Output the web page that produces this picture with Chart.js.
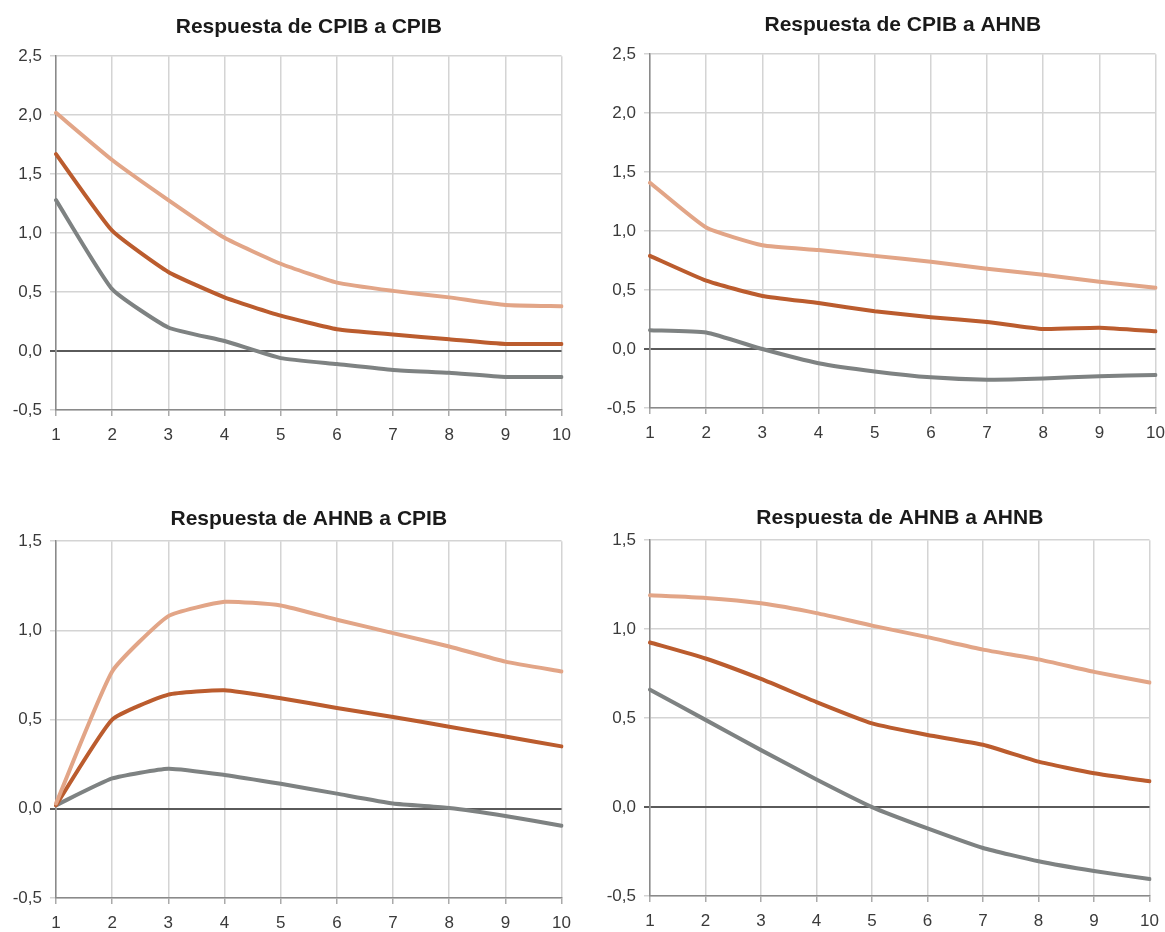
<!DOCTYPE html>
<html>
<head>
<meta charset="utf-8">
<script src="https://cdn.jsdelivr.net/npm/chart.js@4.4.1/dist/chart.umd.min.js"></script>
<style>
  body { margin: 0; background: #fff; width: 1165px; height: 932px; overflow: hidden; position: relative; }
  .panel { position: absolute; }
</style>
</head>
<body>
<div class="panel" style="left:0px;top:0px;width:580px;height:444px"><canvas id="c1"></canvas></div>
<div class="panel" style="left:594px;top:0px;width:580px;height:442px"><canvas id="c2"></canvas></div>
<div class="panel" style="left:0px;top:500px;width:580px;height:432px"><canvas id="c3"></canvas></div>
<div class="panel" style="left:594px;top:500px;width:574px;height:430px"><canvas id="c4"></canvas></div>
<script>
const periods = ["1","2","3","4","5","6","7","8","9","10"];

// Respuesta de CPIB a CPIB
const cpibCpibUpper = [2.02, 1.62, 1.28, 0.96, 0.74, 0.58, 0.51, 0.455, 0.39, 0.38];
const cpibCpibMid   = [1.67, 1.02, 0.67, 0.455, 0.30, 0.185, 0.14, 0.10, 0.06, 0.06];
const cpibCpibLower = [1.28, 0.525, 0.20, 0.085, -0.06, -0.11, -0.16, -0.185, -0.22, -0.22];

// Respuesta de CPIB a AHNB
const cpibAhnbUpper = [1.41, 1.03, 0.88, 0.84, 0.79, 0.74, 0.68, 0.63, 0.57, 0.52];
const cpibAhnbMid   = [0.79, 0.58, 0.45, 0.39, 0.32, 0.27, 0.23, 0.17, 0.18, 0.15];
const cpibAhnbLower = [0.16, 0.14, 0.0, -0.12, -0.19, -0.24, -0.26, -0.25, -0.23, -0.22];

// Respuesta de AHNB a CPIB
const ahnbCpibUpper = [0.03, 0.77, 1.08, 1.16, 1.14, 1.06, 0.985, 0.91, 0.825, 0.77];
const ahnbCpibMid   = [0.02, 0.50, 0.64, 0.665, 0.62, 0.565, 0.515, 0.46, 0.405, 0.35];
const ahnbCpibLower = [0.02, 0.17, 0.225, 0.19, 0.14, 0.085, 0.03, 0.005, -0.04, -0.095];

// Respuesta de AHNB a AHNB
const ahnbAhnbUpper = [1.19, 1.175, 1.145, 1.09, 1.02, 0.955, 0.885, 0.83, 0.76, 0.70];
const ahnbAhnbMid   = [0.925, 0.835, 0.72, 0.59, 0.47, 0.405, 0.35, 0.255, 0.19, 0.145];
const ahnbAhnbLower = [0.66, 0.49, 0.32, 0.155, 0.0, -0.12, -0.23, -0.305, -0.36, -0.405];

const ticksTop    = ["-0,5", "0,0", "0,5", "1,0", "1,5", "2,0", "2,5"];
const ticksBottom = ["-0,5", "0,0", "0,5", "1,0", "1,5"];

const upperColor = '#e2a587';
const midColor = '#bb5c2e';
const lowerColor = '#7e8282';

function makeChart(id, title, upper, mid, lower, yLabels, titlePad, rightPad) {
    const yMin = -0.5;
    const yMax = yMin + (yLabels.length - 1) * 0.5;
    return new Chart(document.getElementById(id), {
        type: 'line',
        data: {
            labels: periods,
            datasets: [
                { data: upper, borderColor: upperColor },
                { data: mid, borderColor: midColor },
                { data: lower, borderColor: lowerColor }
            ]
        },
        options: {
            responsive: true,
            maintainAspectRatio: false,
            animation: false,
            elements: {
                line: { borderWidth: 4, tension: 0.15, borderCapStyle: 'round', borderJoinStyle: 'round' },
                point: { radius: 0 }
            },
            layout: { padding: { left: 0, right: rightPad, bottom: 0 } },
            plugins: {
                legend: { display: false },
                tooltip: { enabled: false },
                title: {
                    display: true,
                    fullSize: false,
                    text: title,
                    color: '#1a1a1a',
                    font: { family: 'Liberation Sans', size: 21, weight: 'bold', lineHeight: 1.2 },
                    padding: titlePad
                }
            },
            scales: {
                x: {
                    afterFit: function (scale) { scale.height = 34; },
                    grid: { color: '#d4d4d4', lineWidth: 1.5, tickLength: 6, tickColor: '#aaaaaa' },
                    border: { color: '#8a8a8a', width: 1.5 },
                    ticks: { color: '#3a3a3a', padding: 9, maxRotation: 0,
                        font: { family: 'Liberation Sans', size: 17 } }
                },
                y: {
                    min: yMin,
                    max: yMax,
                    afterFit: function (scale) { scale.width = 56; },
                    grid: {
                        tickLength: 6,
                        color: function (ctx) { return ctx.tick && ctx.tick.value === 0 ? '#5a5a5a' : '#d4d4d4'; },
                        lineWidth: function (ctx) { return ctx.tick && ctx.tick.value === 0 ? 2 : 1.5; }
                    },
                    border: { color: '#8a8a8a', width: 1.5 },
                    ticks: {
                        stepSize: 0.5,
                        color: '#3a3a3a',
                        padding: 8,
                        font: { family: 'Liberation Sans', size: 17 },
                        callback: function (value, index) { return yLabels[index]; }
                    }
                }
            }
        }
    });
}

makeChart('c1', 'Respuesta de CPIB a CPIB', cpibCpibUpper, cpibCpibMid, cpibCpibLower, ticksTop, { top: 15, bottom: 16 }, 17);
makeChart('c2', 'Respuesta de CPIB a AHNB', cpibAhnbUpper, cpibAhnbMid, cpibAhnbLower, ticksTop, { top: 13, bottom: 16 }, 2);
makeChart('c3', 'Respuesta de AHNB a CPIB', ahnbCpibUpper, ahnbCpibMid, ahnbCpibLower, ticksBottom, { top: 7, bottom: 9 }, 17);
makeChart('c4', 'Respuesta de AHNB a AHNB', ahnbAhnbUpper, ahnbAhnbMid, ahnbAhnbLower, ticksBottom, { top: 6, bottom: 9 }, 14);
</script>
</body>
</html>
